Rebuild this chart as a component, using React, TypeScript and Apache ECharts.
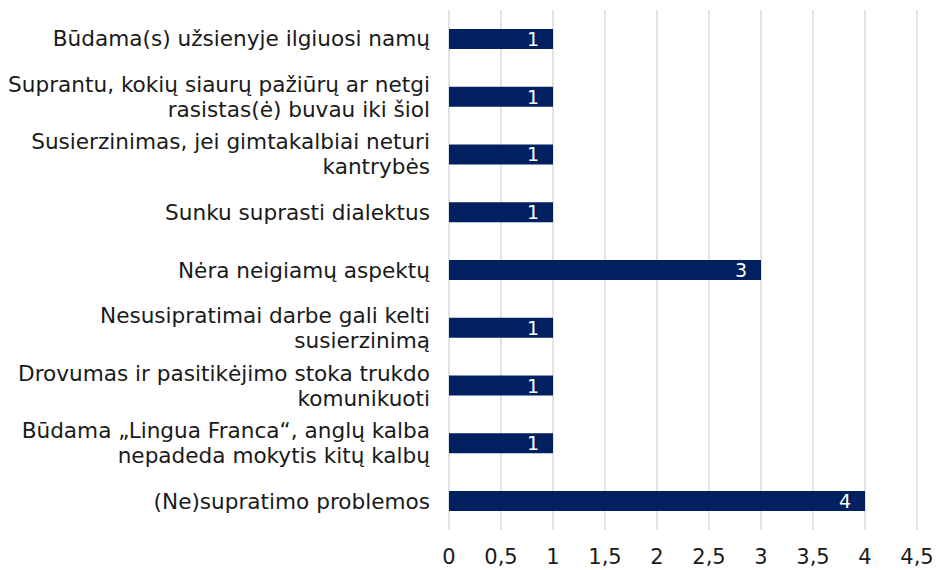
import React, { useEffect, useRef } from "react";
import * as echarts from "echarts";

const categories = [
  "Būdama(s) užsienyje ilgiuosi namų",
  "Suprantu, kokių siaurų pažiūrų ar netgi\nrasistas(ė) buvau iki šiol",
  "Susierzinimas, jei gimtakalbiai neturi\nkantrybės",
  "Sunku suprasti dialektus",
  "Nėra neigiamų aspektų",
  "Nesusipratimai darbe gali kelti\nsusierzinimą",
  "Drovumas ir pasitikėjimo stoka trukdo\nkomunikuoti",
  "Būdama „Lingua Franca“, anglų kalba\nnepadeda mokytis kitų kalbų",
  "(Ne)supratimo problemos",
];
const values = [1, 1, 1, 1, 3, 1, 1, 1, 4];
const axisMin = 0;
const axisMax = 4.5;
const axisStep = 0.5;

export default function App() {
  const ref = useRef<HTMLDivElement>(null);
  useEffect(() => {
    if (!ref.current) return;
    const chart = echarts.init(ref.current, undefined, { renderer: "svg" });
    const font = "DejaVu Sans, Verdana, sans-serif";
    chart.setOption({
      animation: false,
      grid: { left: 449, right: 20, top: 10, bottom: 40, containLabel: false },
      xAxis: {
        type: "value",
        min: axisMin,
        max: axisMax,
        interval: axisStep,
        axisLine: { show: false },
        axisTick: { show: false },
        splitLine: { show: true, lineStyle: { color: "#d9d9d9", width: 1.5 } },
        axisLabel: {
          fontFamily: font,
          fontSize: 21,
          color: "#1a1a1a",
          margin: 16,
          formatter: (v: number) => String(v).replace(".", ","),
        },
      },
      yAxis: {
        type: "category",
        data: categories,
        inverse: true,
        axisLine: { show: false },
        axisTick: { show: false },
        axisLabel: {
          fontFamily: font,
          fontSize: 21.6,
          color: "#1a1a1a",
          margin: 19,
          lineHeight: 25,
          align: "right",
        },
      },
      series: [
        {
          type: "bar",
          data: values,
          barWidth: 20,
          itemStyle: { color: "#002060" },
          label: {
            show: true,
            position: "insideRight",
            color: "#ffffff",
            fontFamily: font,
            fontSize: 19,
            distance: 14,
          },
        },
      ],
    });
    return () => chart.dispose();
  }, []);
  return <div ref={ref} style={{ width: 937, height: 570, position: "absolute", left: 0, top: 0, background: "#fff" }} />;
}
